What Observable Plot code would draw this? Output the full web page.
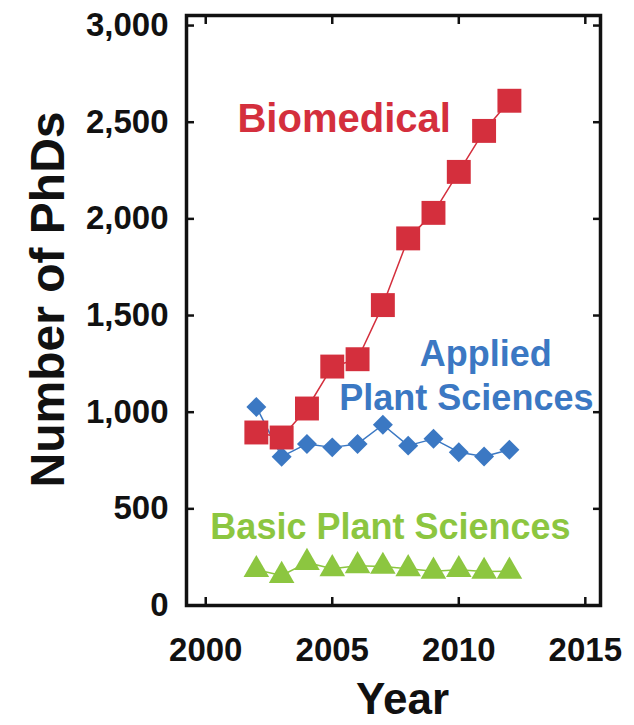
<!DOCTYPE html>
<html>
<head>
<meta charset="utf-8">
<script src="https://cdn.jsdelivr.net/npm/d3@7"></script>
<script src="https://cdn.jsdelivr.net/npm/@observablehq/plot@0.6"></script>
<style>
  html, body { margin: 0; padding: 0; background: #fff; }
  #chart svg { display: block; }
</style>
</head>
<body>
<div id="chart"></div>
<script>
// ---- data ----
const years = [2002, 2003, 2004, 2005, 2006, 2007, 2008, 2009, 2010, 2011, 2012];
const biomedical = [895, 869, 1019, 1236, 1274, 1554, 1899, 2031, 2243, 2455, 2611];
const appliedPlant = [1027, 770, 836, 818, 836, 935, 827, 862, 793, 771, 806];
const basicPlant = [185, 155, 222, 190, 205, 202, 190, 177, 185, 176, 177];
const xTicks = [2000, 2005, 2010, 2015];
const yTicks = [0, 500, 1000, 1500, 2000, 2500, 3000];
const xTitle = "Year";
const yTitle = "Number of PhDs";
const seriesLabels = ["Biomedical", "Applied", "Plant Sciences", "Basic Plant Sciences"];

// ---- styling ----
const RED = "#d42f3d", BLUE = "#3b78c3", GREEN = "#8cc640";
const FONT = "'Liberation Sans', Arial, Helvetica, sans-serif";

const rows = (vals) => years.map((year, i) => ({year, value: vals[i]}));
const bio = rows(biomedical), app = rows(appliedPlant), bas = rows(basicPlant);

const tickStyle = {strokeWidth: 2.5, fill: "none", label: null};
const textStyle = {fontSize: 33, fontWeight: "bold", fontFamily: FONT, fill: "#111", label: null};

const chart = Plot.plot({
  width: 634,
  height: 725,
  marginLeft: 186,
  marginRight: 34,
  marginTop: 15,
  marginBottom: 120,
  style: {fontFamily: FONT, background: "#fff", color: "#111"},
  x: {domain: [1999.24, 2015.6]},
  y: {domain: [0, 3052]},
  marks: [
    // inward ticks on all four sides
    Plot.axisX(xTicks, {anchor: "bottom", tickSize: 8, dy: -8, ...tickStyle}),
    Plot.axisX(xTicks, {anchor: "top", tickSize: 8, dy: 8, ...tickStyle}),
    Plot.axisY(yTicks, {anchor: "left", tickSize: 8, dx: 8, ...tickStyle}),
    Plot.axisY(yTicks, {anchor: "right", tickSize: 8, dx: -8, ...tickStyle}),
    // tick labels
    Plot.axisX(xTicks, {anchor: "bottom", tickSize: 0, tickPadding: 32, tickFormat: d => String(d), ...textStyle}),
    Plot.axisY(yTicks, {anchor: "left", tickSize: 0, tickPadding: 18, tickFormat: d3.format(","), ...textStyle}),
    Plot.frame({stroke: "#111", strokeWidth: 3.5}),
    // axis titles
    Plot.text([yTitle], {text: d => d, frameAnchor: "left", textAnchor: "middle", lineAnchor: "middle",
      rotate: -90, dx: -138, dy: -11,
      fontSize: 48, fontWeight: "bold", fontFamily: FONT, fill: "#111"}),
    Plot.text([xTitle], {text: d => d, frameAnchor: "bottom", textAnchor: "middle", lineAnchor: "middle",
      dx: 9, dy: 94,
      fontSize: 44, fontWeight: "bold", fontFamily: FONT, fill: "#111"}),
    // series
    Plot.line(bas, {x: "year", y: "value", stroke: GREEN, strokeWidth: 1.5}),
    Plot.dot(bas, {x: "year", y: "value", symbol: "triangle", r: 9.5, fill: GREEN, stroke: "none"}),
    Plot.line(app, {x: "year", y: "value", stroke: BLUE, strokeWidth: 1.5}),
    Plot.dot(app, {x: "year", y: "value", symbol: "diamond2", r: 9, fill: BLUE, stroke: "none"}),
    Plot.line(bio, {x: "year", y: "value", stroke: RED, strokeWidth: 1.5}),
    Plot.dot(bio, {x: "year", y: "value", symbol: "square", r: 13.5, fill: RED, stroke: "none"}),
    // series annotations
    Plot.text([seriesLabels[0]], {text: d => d, x: 2005.47, y: 2517, fill: RED,
      fontSize: 40, fontWeight: "bold", fontFamily: FONT}),
    Plot.text([seriesLabels[1]], {text: d => d, x: 2011.07, y: 1298, fill: BLUE,
      fontSize: 36, fontWeight: "bold", fontFamily: FONT}),
    Plot.text([seriesLabels[2]], {text: d => d, x: 2010.3, y: 1071, fill: BLUE,
      fontSize: 36, fontWeight: "bold", fontFamily: FONT}),
    Plot.text([seriesLabels[3]], {text: d => d, x: 2007.3, y: 406, fill: GREEN,
      fontSize: 36, fontWeight: "bold", fontFamily: FONT})
  ]
});

document.getElementById("chart").appendChild(chart);
</script>
</body>
</html>
